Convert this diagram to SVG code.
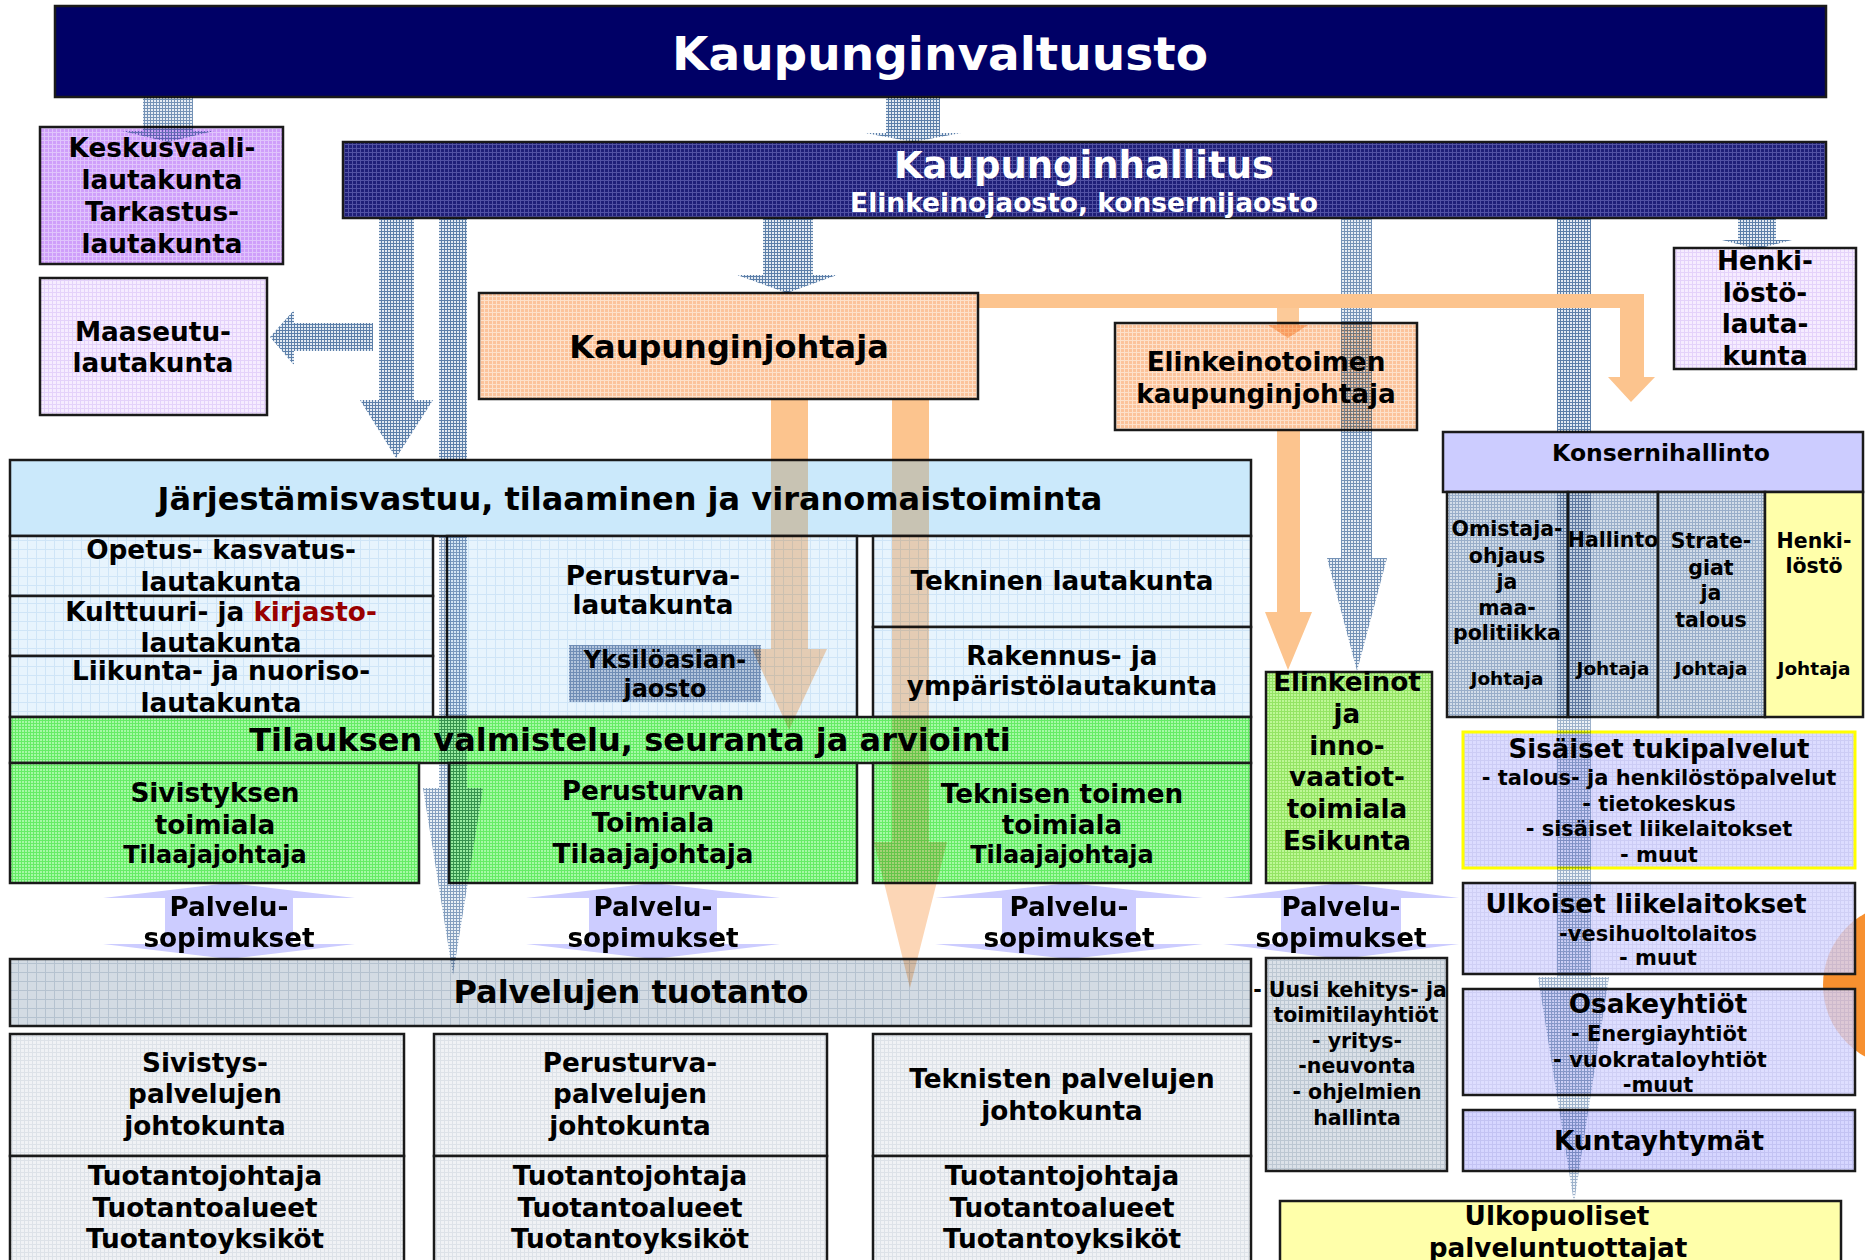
<svg xmlns="http://www.w3.org/2000/svg" width="1865" height="1260" viewBox="0 0 1865 1260">
<defs>
<pattern id="mesh" width="3" height="3" patternUnits="userSpaceOnUse"><rect width="3" height="3" fill="#e3eaf2"/><path d="M0 .5H3M.5 0V3" stroke="#5c7fa9" stroke-width="1"/></pattern>
<pattern id="pNavy" width="4" height="4" patternUnits="userSpaceOnUse"><rect width="4" height="4" fill="#1f1f78"/><path d="M0 .5H4M.5 0V4" stroke="#5252a4" stroke-width="1"/></pattern>
<pattern id="pPurple" width="4" height="4" patternUnits="userSpaceOnUse"><rect width="4" height="4" fill="#cf9ffa"/><path d="M0 .5H4M.5 0V4" stroke="#e0c4fc" stroke-width="1"/></pattern>
<pattern id="pLilac" width="4" height="4" patternUnits="userSpaceOnUse"><rect width="4" height="4" fill="#f6ecff"/><path d="M0 .5H4M.5 0V4" stroke="#e4d2fa" stroke-width="1"/></pattern>
<pattern id="pPeach" width="4" height="4" patternUnits="userSpaceOnUse"><rect width="4" height="4" fill="#fcc39b"/><path d="M0 .5H4M.5 0V4" stroke="#fde1cb" stroke-width="1"/></pattern>
<pattern id="pCell" width="9" height="9" patternUnits="userSpaceOnUse"><rect width="9" height="9" fill="#e7f4fd"/><path d="M0 .5H9M.5 0V9" stroke="#cfe5f7" stroke-width="1"/></pattern>
<pattern id="pYks" width="3" height="3" patternUnits="userSpaceOnUse"><rect width="3" height="3" fill="#b3c5dc"/><path d="M0 .5H3M.5 0V3" stroke="#6f8db5" stroke-width="1"/></pattern>
<pattern id="pGreen" width="3" height="3" patternUnits="userSpaceOnUse"><rect width="3" height="3" fill="#a6f9a6"/><path d="M0 .5H3M.5 0V3" stroke="#66ec66" stroke-width="1"/></pattern>
<pattern id="pGreen2" width="3" height="3" patternUnits="userSpaceOnUse"><rect width="3" height="3" fill="#bef796"/><path d="M0 .5H3M.5 0V3" stroke="#94e464" stroke-width="1"/></pattern>
<pattern id="pKons" width="3" height="3" patternUnits="userSpaceOnUse"><rect width="3" height="3" fill="#d3dde9"/><path d="M0 .5H3M.5 0V3" stroke="#99aec9" stroke-width="1"/></pattern>
<pattern id="pLav" width="4" height="4" patternUnits="userSpaceOnUse"><rect width="4" height="4" fill="#d6d6ff"/><path d="M0 .5H4M.5 0V4" stroke="#c3c3f3" stroke-width="1"/></pattern>
<pattern id="pGrey" width="9" height="9" patternUnits="userSpaceOnUse"><rect width="9" height="9" fill="#d3dbe3"/><path d="M0 .5H9M.5 0V9" stroke="#b5c2cf" stroke-width="1"/></pattern>
<pattern id="pLight" width="4" height="4" patternUnits="userSpaceOnUse"><rect width="4" height="4" fill="#f0f2f5"/><path d="M0 .5H4M.5 0V4" stroke="#dde2e8" stroke-width="1"/></pattern>
<pattern id="pUusi" width="4" height="4" patternUnits="userSpaceOnUse"><rect width="4" height="4" fill="#dbe1e8"/><path d="M0 .5H4M.5 0V4" stroke="#bcc7d2" stroke-width="1"/></pattern>
</defs>
<style>
text{font-family:"DejaVu Sans",Verdana,sans-serif;font-weight:bold;fill:#000;text-anchor:middle;font-size:26.3px}
.b{stroke:#1a1a1a;stroke-width:2.5}
.wt{fill:#fff}
.s47{font-size:47px}
.s36{font-size:37px}
.sub{font-size:26.5px}
.s31{font-size:32px}
.s24{font-size:26px}
.s23{font-size:24px}
.s21{font-size:23.5px}
.s20{font-size:20.5px}
.s19{font-size:21px}
.su{font-size:20.5px}
.s18{font-size:18.5px}
.mesh{fill:url(#mesh)}
.or{fill:#fcc48e}
.orT{fill:#fab57a;opacity:.55}
.lav{fill:#ccccff}
#connectors{mix-blend-mode:multiply}
</style>
<rect width="1865" height="1260" fill="#fff"/>

<g id="deco">
<circle cx="1905" cy="985" r="82" fill="#f7902f"/>
</g>

<g id="n-valtuusto">
<rect class="b" x="55" y="6" width="1771" height="91" fill="#000066"/>
<text class="wt s47" x="940" y="70">Kaupunginvaltuusto</text>
</g>
<g id="n-hallitus">
<rect class="b" x="343" y="142" width="1483" height="76" fill="url(#pNavy)"/>
<text class="wt s36" x="1084" y="178">Kaupunginhallitus</text>
<text class="wt sub" x="1084" y="212">Elinkeinojaosto, konsernijaosto</text>
</g>
<g id="n-keskusvaali">
<rect class="b" x="40" y="127" width="243" height="137" fill="url(#pPurple)"/>
<text x="162" y="157">Keskusvaali-</text>
<text x="162" y="189">lautakunta</text>
<text x="162" y="221">Tarkastus-</text>
<text x="162" y="253">lautakunta</text>
</g>
<g id="n-maaseutu">
<rect class="b" x="40" y="278" width="227" height="137" fill="url(#pLilac)"/>
<text x="153" y="341">Maaseutu-</text>
<text x="153" y="372">lautakunta</text>
</g>
<g id="n-kaupunginjohtaja">
<rect class="b" x="479" y="293" width="499" height="106" fill="url(#pPeach)"/>
<text class="s31" x="729" y="358">Kaupunginjohtaja</text>
</g>
<g id="n-elinkeinotoimen">
<rect class="b" x="1115" y="323" width="302" height="107" fill="url(#pPeach)"/>
<text x="1266" y="371">Elinkeinotoimen</text>
<text x="1266" y="403">kaupunginjohtaja</text>
</g>
<g id="n-henkilostolautakunta">
<rect class="b" x="1674" y="248" width="182" height="121" fill="url(#pLilac)"/>
<text x="1765" y="270">Henki-</text>
<text x="1765" y="302">löstö-</text>
<text x="1765" y="333">lauta-</text>
<text x="1765" y="365">kunta</text>
</g>

<g id="n-jarjestamis">
<rect class="b" x="10" y="460" width="1241" height="76" fill="#cbe9fb"/>
<text class="s31" x="630" y="510">Järjestämisvastuu, tilaaminen ja viranomaistoiminta</text>
</g>
<g id="n-opetus">
<rect class="b" x="10" y="536" width="423" height="60" fill="url(#pCell)"/>
<text x="221" y="559">Opetus- kasvatus-</text>
<text x="221" y="591">lautakunta</text>
</g>
<g id="n-kulttuuri">
<rect class="b" x="10" y="596" width="423" height="60" fill="url(#pCell)"/>
<text x="221" y="621">Kulttuuri- ja <tspan fill="#990000">kirjasto-</tspan></text>
<text x="221" y="652">lautakunta</text>
</g>
<g id="n-liikunta">
<rect class="b" x="10" y="656" width="423" height="61" fill="url(#pCell)"/>
<text x="221" y="680">Liikunta- ja nuoriso-</text>
<text x="221" y="712">lautakunta</text>
</g>
<g id="n-perusturvalautakunta">
<rect class="b" x="447" y="536" width="410" height="181" fill="url(#pCell)"/>
<text x="653" y="585">Perusturva-</text>
<text x="653" y="614">lautakunta</text>
</g>
<g id="n-yksiloasian">
<rect x="569" y="645" width="192" height="57" fill="url(#pYks)"/>
<text class="s23" x="665" y="668">Yksilöasian-</text>
<text class="s23" x="665" y="697">jaosto</text>
</g>
<g id="n-tekninen">
<rect class="b" x="873" y="536" width="378" height="91" fill="url(#pCell)"/>
<text x="1062" y="590">Tekninen lautakunta</text>
</g>
<g id="n-rakennus">
<rect class="b" x="873" y="627" width="378" height="90" fill="url(#pCell)"/>
<text x="1062" y="665">Rakennus- ja</text>
<text x="1062" y="695">ympäristölautakunta</text>
</g>
<g id="n-tilauksen">
<rect class="b" x="10" y="717" width="1241" height="46" fill="url(#pGreen)"/>
<text class="s31" x="630" y="751">Tilauksen valmistelu, seuranta ja arviointi</text>
</g>
<g id="n-sivistyksen">
<rect class="b" x="10" y="763" width="409" height="120" fill="url(#pGreen)"/>
<text x="215" y="802">Sivistyksen</text>
<text x="215" y="834">toimiala</text>
<text class="s23" x="215" y="863">Tilaajajohtaja</text>
</g>
<g id="n-perusturvan">
<rect class="b" x="449" y="763" width="408" height="120" fill="url(#pGreen)"/>
<text x="653" y="800">Perusturvan</text>
<text x="653" y="832">Toimiala</text>
<text x="653" y="863">Tilaajajohtaja</text>
</g>
<g id="n-teknisen">
<rect class="b" x="873" y="763" width="378" height="120" fill="url(#pGreen)"/>
<text x="1062" y="803">Teknisen toimen</text>
<text x="1062" y="834">toimiala</text>
<text class="s23" x="1062" y="863">Tilaajajohtaja</text>
</g>
<g id="n-elinkeinot">
<rect class="b" x="1266" y="672" width="166" height="211" fill="url(#pGreen2)"/>
<text x="1347" y="691">Elinkeinot</text>
<text x="1347" y="723">ja</text>
<text x="1347" y="755">inno-</text>
<text x="1347" y="786">vaatiot-</text>
<text x="1347" y="818">toimiala</text>
<text x="1347" y="850">Esikunta</text>
</g>

<g id="n-konsernihallinto">
<rect class="b" x="1443" y="432" width="420" height="60" fill="#ccccff"/>
<text class="s21" x="1661" y="461">Konsernihallinto</text>
</g>
<g id="n-omistajaohjaus">
<rect class="b" x="1447" y="492" width="121" height="225" fill="url(#pKons)"/>
<text class="s20" x="1507" y="536">Omistaja-</text>
<text class="s20" x="1507" y="563">ohjaus</text>
<text class="s20" x="1507" y="589">ja</text>
<text class="s20" x="1507" y="615">maa-</text>
<text class="s20" x="1507" y="640">politiikka</text>
<text class="s18" x="1507" y="685">Johtaja</text>
</g>
<g id="n-hallinto">
<rect class="b" x="1568" y="492" width="90" height="225" fill="url(#pKons)"/>
<text class="s20" x="1613" y="547">Hallinto</text>
<text class="s18" x="1613" y="675">Johtaja</text>
</g>
<g id="n-strategiat">
<rect class="b" x="1658" y="492" width="107" height="225" fill="url(#pKons)"/>
<text class="s20" x="1711" y="548">Strate-</text>
<text class="s20" x="1711" y="575">giat</text>
<text class="s20" x="1711" y="600">ja</text>
<text class="s20" x="1711" y="627">talous</text>
<text class="s18" x="1711" y="675">Johtaja</text>
</g>
<g id="n-henkilosto">
<rect class="b" x="1765" y="492" width="98" height="225" fill="#ffffaa"/>
<text class="s20" x="1814" y="548">Henki-</text>
<text class="s20" x="1814" y="573">löstö</text>
<text class="s18" x="1814" y="675">Johtaja</text>
</g>
<g id="n-sisaiset">
<rect x="1463" y="732" width="392" height="136" fill="url(#pLav)" fill-opacity=".85" stroke="#ffff00" stroke-width="3"/>
<text class="s24" x="1659" y="758">Sisäiset tukipalvelut</text>
<text class="s19" x="1659" y="785">- talous- ja henkilöstöpalvelut</text>
<text class="s19" x="1659" y="811">- tietokeskus</text>
<text class="s19" x="1659" y="836">- sisäiset liikelaitokset</text>
<text class="s19" x="1659" y="862">- muut</text>
</g>
<g id="n-ulkoiset">
<rect class="b" x="1463" y="883" width="392" height="91" fill="url(#pLav)" fill-opacity=".8"/>
<text x="1646" y="913">Ulkoiset liikelaitokset</text>
<text class="s19" x="1658" y="941">-vesihuoltolaitos</text>
<text class="s19" x="1658" y="965">- muut</text>
</g>
<g id="n-osakeyhtiot">
<rect class="b" x="1463" y="989" width="392" height="106" fill="url(#pLav)" fill-opacity=".8"/>
<text x="1658" y="1013">Osakeyhtiöt</text>
<text class="s19" x="1659" y="1041">- Energiayhtiöt</text>
<text class="s19" x="1660" y="1067">- vuokrataloyhtiöt</text>
<text class="s19" x="1658" y="1092">-muut</text>
</g>
<g id="n-kuntayhtymat">
<rect class="b" x="1463" y="1110" width="392" height="61" fill="url(#pLav)"/>
<text x="1659" y="1150">Kuntayhtymät</text>
</g>
<g id="n-ulkopuoliset">
<rect class="b" x="1280" y="1201" width="561" height="75" fill="#ffffaa"/>
<text x="1557" y="1225">Ulkopuoliset</text>
<text x="1558" y="1257">palveluntuottajat</text>
</g>
<g id="n-uusi">
<rect class="b" x="1266" y="958" width="181" height="213" fill="url(#pUusi)"/>
<text class="su" x="1350" y="997">- Uusi kehitys- ja</text>
<text class="su" x="1356" y="1022">toimitilayhtiöt</text>
<text class="su" x="1357" y="1048">- yritys-</text>
<text class="su" x="1357" y="1073">-neuvonta</text>
<text class="su" x="1357" y="1099">- ohjelmien</text>
<text class="su" x="1357" y="1125">hallinta</text>
</g>

<g id="n-tuotanto">
<rect class="b" x="10" y="959" width="1241" height="67" fill="url(#pGrey)"/>
<text class="s31" x="631" y="1003">Palvelujen tuotanto</text>
</g>
<g id="n-sivistyspalvelut">
<rect class="b" x="10" y="1034" width="394" height="122" fill="url(#pLight)"/>
<rect class="b" x="10" y="1156" width="394" height="115" fill="url(#pLight)"/>
<text x="205" y="1072">Sivistys-</text>
<text x="205" y="1103">palvelujen</text>
<text x="205" y="1135">johtokunta</text>
<text x="205" y="1185">Tuotantojohtaja</text>
<text x="205" y="1217">Tuotantoalueet</text>
<text x="205" y="1248">Tuotantoyksiköt</text>
</g>
<g id="n-perusturvapalvelut">
<rect class="b" x="434" y="1034" width="393" height="122" fill="url(#pLight)"/>
<rect class="b" x="434" y="1156" width="393" height="115" fill="url(#pLight)"/>
<text x="630" y="1072">Perusturva-</text>
<text x="630" y="1103">palvelujen</text>
<text x="630" y="1135">johtokunta</text>
<text x="630" y="1185">Tuotantojohtaja</text>
<text x="630" y="1217">Tuotantoalueet</text>
<text x="630" y="1248">Tuotantoyksiköt</text>
</g>
<g id="n-teknisetpalvelut">
<rect class="b" x="873" y="1034" width="378" height="122" fill="url(#pLight)"/>
<rect class="b" x="873" y="1156" width="378" height="115" fill="url(#pLight)"/>
<text x="1062" y="1088">Teknisten palvelujen</text>
<text x="1062" y="1120">johtokunta</text>
<text x="1062" y="1185">Tuotantojohtaja</text>
<text x="1062" y="1217">Tuotantoalueet</text>
<text x="1062" y="1248">Tuotantoyksiköt</text>
</g>

<g id="connectors">
<polygon class="mesh" opacity=".85" points="143,97 193,97 193,131 214,131 168,142 122,131 143,131"/>
<polygon class="mesh" points="886,97 940,97 940,133 961,133 913,142 865,133 886,133"/>
<polygon class="mesh" points="379,218 414,218 414,400 433,400 396,458 360,400 379,400"/>
<rect class="mesh" x="439" y="218" width="28" height="242"/>
<polygon class="mesh" opacity=".75" points="439,536 467,536 467,788 483,788 453,975 423,788 439,788"/>
<polygon class="mesh" points="763,218 813,218 813,275 837,275 787,293 737,275 763,275"/>
<polygon class="mesh" opacity=".85" points="1341,218 1372,218 1372,558 1387,558 1357,671 1327,558 1341,558"/>
<rect class="mesh" x="1557" y="218" width="34" height="214"/>
<polygon class="mesh" opacity=".6" points="1557,492 1591,492 1591,977 1609,977 1574,1203 1538,977 1557,977"/>
<polygon class="mesh" points="1738,218 1776,218 1776,240 1792,240 1757,249 1722,240 1738,240"/>
<polygon class="mesh" points="373,323 373,351 294,351 294,365 270,337 294,310 294,323"/>
<polygon class="or" points="978,294 1644,294 1644,377 1655,377 1631,402 1608,377 1620,377 1620,308 978,308"/>
<polygon class="or" opacity=".9" points="1277,308 1299,308 1299,325 1308,325 1288,338 1268,325 1277,325"/>
<rect class="or" x="771" y="399" width="37" height="61"/>
<polygon class="orT" points="771,460 808,460 808,649 827,649 789,730 752,649 771,649"/>
<rect class="or" x="892" y="399" width="37" height="61"/>
<polygon class="orT" points="892,460 929,460 929,842 947,842 910,988 874,842 892,842"/>
<polygon class="or" points="1277,430 1300,430 1300,612 1312,612 1288,670 1265,612 1277,612"/>
<g id="palvelusopimukset">
<polygon class="lav" points="229,883 355,898 293,898 293,944 355,944 229,959 103,944 165,944 165,898 103,898"/>
<polygon class="lav" points="653,883 780,898 717,898 717,944 780,944 653,959 526,944 589,944 589,898 526,898"/>
<polygon class="lav" points="1069,883 1203,898 1136,898 1136,944 1203,944 1069,959 935,944 1002,944 1002,898 935,898"/>
<polygon class="lav" points="1341,883 1459,898 1401,898 1401,944 1459,944 1341,959 1223,944 1281,944 1281,898 1223,898"/>
<text x="229" y="916">Palvelu-</text><text x="229" y="947">sopimukset</text>
<text x="653" y="916">Palvelu-</text><text x="653" y="947">sopimukset</text>
<text x="1069" y="916">Palvelu-</text><text x="1069" y="947">sopimukset</text>
<text x="1341" y="916">Palvelu-</text><text x="1341" y="947">sopimukset</text>
</g>
</g>
</svg>
